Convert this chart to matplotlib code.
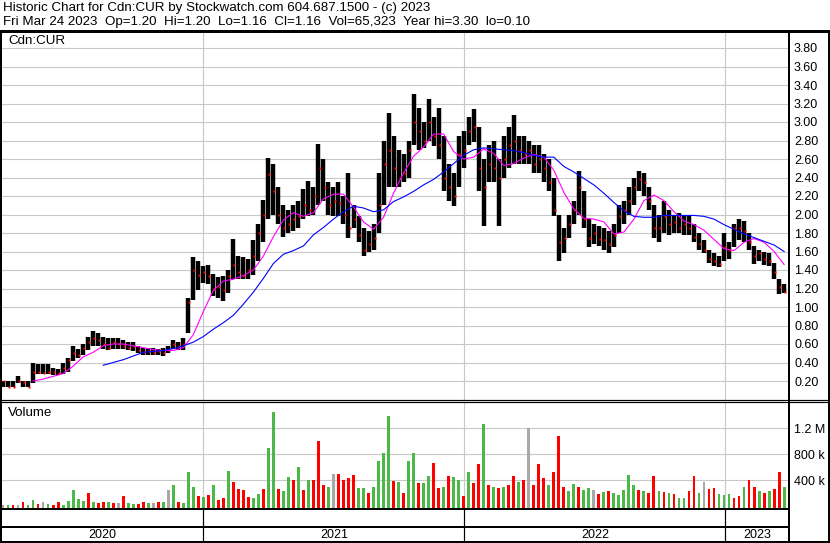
import numpy as np
import pandas as pd
import matplotlib
matplotlib.use("Agg")
import matplotlib.pyplot as plt
import matplotlib.dates as mdates
from matplotlib.lines import Line2D

plt.rcParams['font.family'] = ['Liberation Sans', 'DejaVu Sans']

# ---------------- data (weekly readings of the daily chart) ----------------
week_ends = pd.date_range('2020-03-27', '2023-03-24', freq='7D')

highs = [0.20, 0.20, 0.20, 0.25, 0.20, 0.20, 0.39, 0.38, 0.38, 0.38,
         0.34, 0.33, 0.40, 0.45, 0.58, 0.55, 0.60, 0.68, 0.74, 0.72,
         0.68, 0.66, 0.66, 0.66, 0.64, 0.62, 0.62, 0.58, 0.56, 0.56,
         0.56, 0.55, 0.56, 0.58, 0.64, 0.62, 0.66, 1.10, 1.54, 1.50,
         1.44, 1.45, 1.36, 1.32, 1.34, 1.40, 1.74, 1.55, 1.54, 1.52,
         1.72, 1.90, 2.16, 2.61, 2.55, 2.30, 2.10, 2.05, 2.10, 2.15,
         2.28, 2.36, 2.30, 2.76, 2.60, 2.35, 2.30, 2.35, 2.20, 2.45,
         2.10, 1.98, 1.85, 1.82, 1.90, 2.45, 2.80, 3.10, 2.85, 2.70,
         2.65, 2.80, 3.30, 3.15, 3.00, 3.25, 3.05, 3.15, 2.85, 2.55,
         2.45, 2.85, 2.90, 3.05, 3.14, 2.95, 2.60, 2.75, 2.80, 2.60,
         2.85, 2.95, 3.08, 2.85, 2.85, 2.80, 2.75, 2.75, 2.65, 2.60,
         2.40, 2.00, 1.85, 2.00, 2.15, 2.47, 2.25, 1.95, 1.90, 1.88,
         1.85, 1.82, 1.90, 2.10, 2.15, 2.30, 2.40, 2.47, 2.45, 2.30,
         2.10, 2.00, 2.15, 2.05, 2.00, 2.02, 2.00, 1.98, 1.90, 1.80,
         1.72, 1.62, 1.58, 1.55, 1.80, 1.70, 1.90, 1.95, 1.93, 1.80,
         1.66, 1.62, 1.60, 1.58, 1.48, 1.30, 1.25]

lows = [0.13, 0.14, 0.14, 0.18, 0.14, 0.14, 0.18, 0.28, 0.28, 0.28,
        0.27, 0.27, 0.28, 0.30, 0.42, 0.45, 0.48, 0.54, 0.58, 0.58,
        0.55, 0.53, 0.55, 0.55, 0.55, 0.53, 0.52, 0.50, 0.48, 0.48,
        0.48, 0.48, 0.47, 0.50, 0.55, 0.54, 0.54, 0.72, 1.08, 1.18,
        1.26, 1.25, 1.12, 1.10, 1.06, 1.15, 1.30, 1.30, 1.30, 1.30,
        1.35, 1.50, 1.70, 1.95, 2.00, 1.90, 1.76, 1.80, 1.82, 1.85,
        1.95, 1.98, 2.00, 2.10, 2.15, 2.00, 1.98, 1.98, 1.90, 1.75,
        1.85, 1.70, 1.55, 1.60, 1.62, 1.80, 2.10, 2.30, 2.30, 2.30,
        2.35, 2.40, 2.75, 2.70, 2.72, 2.80, 2.74, 2.60, 2.25, 2.15,
        2.09, 2.30, 2.50, 2.75, 2.78, 2.25, 1.88, 2.35, 2.35, 1.88,
        2.40, 2.50, 2.55, 2.55, 2.55, 2.55, 2.45, 2.45, 2.35, 2.25,
        1.98, 1.50, 1.58, 1.75, 1.90, 2.00, 1.85, 1.65, 1.68, 1.66,
        1.62, 1.58, 1.65, 1.80, 1.90, 2.00, 2.10, 2.25, 2.20, 2.05,
        1.75, 1.70, 1.80, 1.78, 1.80, 1.80, 1.78, 1.78, 1.70, 1.62,
        1.58, 1.48, 1.44, 1.43, 1.50, 1.52, 1.65, 1.72, 1.70, 1.62,
        1.47, 1.50, 1.45, 1.44, 1.30, 1.14, 1.15]

closes = [0.20, 0.14, 0.14, 0.20, 0.19, 0.14, 0.30, 0.30, 0.29, 0.30,
          0.30, 0.29, 0.34, 0.43, 0.50, 0.48, 0.56, 0.62, 0.66, 0.64,
          0.60, 0.56, 0.62, 0.60, 0.58, 0.56, 0.58, 0.54, 0.51, 0.52,
          0.50, 0.52, 0.50, 0.54, 0.60, 0.58, 0.60, 1.05, 1.40, 1.35,
          1.38, 1.34, 1.20, 1.22, 1.18, 1.33, 1.45, 1.38, 1.34, 1.40,
          1.55, 1.80, 2.00, 2.44, 2.25, 2.00, 1.85, 1.90, 1.95, 1.98,
          2.10, 2.05, 2.20, 2.50, 2.30, 2.10, 2.15, 2.12, 2.00, 1.85,
          1.95, 1.78, 1.62, 1.68, 1.75, 2.10, 2.55, 2.70, 2.50, 2.40,
          2.45, 2.70, 3.00, 2.90, 2.80, 3.00, 2.85, 2.75, 2.40, 2.30,
          2.20, 2.65, 2.70, 2.90, 2.95, 2.50, 2.30, 2.55, 2.50, 2.40,
          2.60, 2.75, 2.80, 2.70, 2.65, 2.70, 2.55, 2.60, 2.50, 2.35,
          2.05, 1.70, 1.75, 1.90, 2.05, 2.30, 1.95, 1.75, 1.80, 1.74,
          1.72, 1.68, 1.78, 1.98, 2.05, 2.15, 2.30, 2.38, 2.35, 2.15,
          1.85, 1.85, 1.98, 1.90, 1.92, 1.85, 1.90, 1.85, 1.76, 1.68,
          1.62, 1.52, 1.50, 1.47, 1.65, 1.62, 1.85, 1.85, 1.82, 1.70,
          1.55, 1.58, 1.52, 1.50, 1.38, 1.22, 1.16]

volume_k = [10, 12, 10, 15, 57, 20, 94, 30, 68, 25,
            20, 57, 20, 80, 250, 110, 80, 208, 70, 40,
            65, 65, 40, 50, 160, 40, 30, 30, 55, 40,
            45, 60, 55, 250, 330, 60, 40, 525, 300, 150,
            140, 170, 330, 100, 130, 535, 370, 270, 250, 140,
            120, 180, 260, 900, 1460, 260, 240, 450, 400, 600,
            250, 400, 400, 1010, 330, 300, 500, 500, 400, 430,
            480, 280, 280, 200, 300, 690, 820, 1390, 380, 370,
            200, 700, 820, 350, 360, 470, 665, 280, 300, 470,
            450, 400, 150, 520, 350, 650, 1270, 330, 300, 280,
            300, 330, 470, 370, 400, 1210, 320, 650, 430, 330,
            520, 1090, 300, 230, 340, 300, 250, 280, 250, 180,
            220, 230, 200, 170, 250, 480, 330, 250, 230, 200,
            460, 230, 220, 200, 180, 130, 130, 230, 470, 200,
            370, 270, 280, 180, 170, 180, 130, 150, 300, 410,
            300, 230, 200, 230, 260, 530, 300]

# g = up day, r = down day, n = unchanged
volume_dir = ("ngrnrggrng" "rrgggggrgr" "rgrnrggrrg" "nrgngrgggr"
              "grgrrgrrrr" "ggrggrggrg" "rgrrrgnrrr" "rggrggggrg"
              "rggrggrrgr" "ggrgrrgrgr" "grrgrnrrrg" "rrrggrggnr"
              "grgggggrgr" "rgrgrggrrg" "nrrgggrrgr" "rgrgrrg")

# moving averages read every second week (fast from week 6, slow from week 20)
fast_ma = [0.20, 0.22, 0.25, 0.28, 0.36, 0.46, 0.51, 0.58, 0.60, 0.60,
           0.58, 0.56, 0.54, 0.53, 0.53, 0.56, 0.70, 0.95, 1.18, 1.28,
           1.30, 1.34, 1.40, 1.55, 1.76, 1.94, 2.02, 1.98, 2.02, 2.17,
           2.22, 2.22, 2.08, 1.92, 1.84, 1.97, 2.23, 2.45, 2.63, 2.73,
           2.87, 2.87, 2.68, 2.60, 2.62, 2.71, 2.66, 2.53, 2.55, 2.61,
           2.65, 2.62, 2.48, 2.24, 2.06, 1.96, 1.95, 1.92, 1.79, 1.81,
           1.95, 2.15, 2.21, 2.15, 2.03, 1.93, 1.89, 1.83, 1.73, 1.63,
           1.61, 1.70, 1.74, 1.70, 1.60, 1.46]

slow_ma = [0.37, 0.40, 0.43, 0.47, 0.51, 0.52, 0.53, 0.55, 0.58, 0.62,
           0.68, 0.76, 0.83, 0.91, 1.03, 1.16, 1.31, 1.47, 1.57, 1.61,
           1.66, 1.78, 1.86, 1.95, 2.03, 2.09, 2.07, 2.03, 2.05, 2.14,
           2.19, 2.25, 2.32, 2.38, 2.46, 2.55, 2.64, 2.70, 2.72, 2.71,
           2.70, 2.69, 2.67, 2.64, 2.62, 2.62, 2.52, 2.46, 2.39, 2.32,
           2.23, 2.13, 2.04, 1.98, 1.97, 1.97, 1.99, 1.99, 1.99, 1.99,
           1.98, 1.95, 1.89, 1.84, 1.79, 1.75, 1.71, 1.67, 1.60]

price_ticks = [0.20, 0.40, 0.60, 0.80, 1.00, 1.20, 1.40, 1.60, 1.80, 2.00,
               2.20, 2.40, 2.60, 2.80, 3.00, 3.20, 3.40, 3.60, 3.80]
volume_ticks = [400, 800, 1200]
volume_tick_labels = ["400 k", "800 k", "1.2 M"]
year_labels = ["2020", "2021", "2022", "2023"]
year_starts = ["2021-01-01", "2022-01-01", "2023-01-01"]

header1 = "Historic Chart for Cdn:CUR by Stockwatch.com 604.687.1500 - (c) 2023"
header2 = ("Fri Mar 24 2023  Op=1.20  Hi=1.20  Lo=1.16  Cl=1.16  Vol=65,323  "
           "Year hi=3.30  lo=0.10")

# ---------------- layout helpers ----------------
W, H = 830, 543
fig = plt.figure(figsize=(W / 100, H / 100), dpi=100)
fig.patch.set_facecolor('white')


def fx(px):
    return px / W


def fy(py):
    return 1 - py / H


def axes_px(x0, y0, x1, y1):
    return fig.add_axes([fx(x0), fy(y1), (x1 - x0) / W, (y1 - y0) / H])


def hline(y, x0, x1, lw=1.0, color='black'):
    fig.add_artist(Line2D([fx(x0), fx(x1)], [fy(y), fy(y)], transform=fig.transFigure,
                          color=color, lw=lw * 0.72, solid_capstyle='butt'))


def vline(x, y0, y1, lw=1.0, color='black'):
    fig.add_artist(Line2D([fx(x), fx(x)], [fy(y0), fy(y1)], transform=fig.transFigure,
                          color=color, lw=lw * 0.72, solid_capstyle='butt'))


xd = mdates.date2num(week_ends.to_pydatetime())
days_per_px = 1.398
x_left = xd[0] - 2 * days_per_px
x_right = xd[0] + 786 * days_per_px
grid_c = '#C8C8C8'
year_x = mdates.date2num(pd.to_datetime(year_starts).to_pydatetime())

# ---------------- price panel ----------------
ax = axes_px(1, 31.5, 789, 399.5)
ax.set_xlim(x_left, x_right)
ax.set_ylim(0.0, (399.5 - 31.5) / 92.5)
for s in ax.spines.values():
    s.set_visible(False)
ax.set_yticks(price_ticks)
ax.set_yticklabels([f"{t:.2f}" for t in price_ticks])
ax.yaxis.tick_right()
ax.tick_params(axis='y', length=0, pad=3.6, labelsize=9)
ax.set_xticks([])
for t in price_ticks:
    ax.axhline(t, color=grid_c, lw=0.8, zorder=0)
for yx in year_x:
    ax.axvline(yx, color=grid_c, lw=0.8, zorder=0)

ax.vlines(xd, lows, highs, color='black', lw=3.2, zorder=2)
ax.plot(xd + 1.5, closes, 's', ms=1.6, color='red', mec='none', zorder=3)
ax.plot(xd[6::2], fast_ma, color='#FF00FF', lw=0.8, zorder=4)
ax.plot(xd[20::2], slow_ma, color='#0000FF', lw=0.8, zorder=4)
fig.text(fx(8), fy(41.5), "Cdn:CUR", fontsize=9.6, va='center', ha='left')

# ---------------- volume panel ----------------
axv = axes_px(1, 402.5, 789, 508)
axv.set_xlim(x_left, x_right)
axv.set_ylim(-30, 1600)
for s in axv.spines.values():
    s.set_visible(False)
axv.set_yticks(volume_ticks)
axv.set_yticklabels(volume_tick_labels)
axv.yaxis.tick_right()
axv.tick_params(axis='y', length=0, pad=3.6, labelsize=9)
axv.set_xticks([])
for t in volume_ticks:
    axv.axhline(t, color=grid_c, lw=0.8, zorder=0)
for yx in year_x:
    axv.axvline(yx, color=grid_c, lw=0.8, zorder=0)
col_map = {'g': '#4CB848', 'r': '#FF0000', 'n': '#A8A8A8'}
axv.bar(xd, np.array(volume_k) + 30, width=4.0, bottom=-30,
        color=[col_map[c] for c in volume_dir], linewidth=0, zorder=2)
fig.text(fx(8), fy(413), "Volume", fontsize=9.6, va='center', ha='left')

# ---------------- frame & date band ----------------
hline(30.5, 0, 830, lw=3)
vline(1, 30, 542, lw=2)
vline(828.5, 30, 542, lw=2)
vline(789, 30, 542, lw=2)
hline(400, 0, 830, lw=1.2)
hline(402, 0, 830, lw=1.2)
hline(509, 0, 789, lw=2)
hline(527, 0, 789, lw=2)
hline(541.5, 0, 830, lw=2)


def px_of(d):
    return 1 + (d - x_left) / days_per_px


bounds = [1] + [px_of(v) for v in year_x] + [789]
for v in year_x:
    vline(px_of(v), 509, 541.5, lw=1.2)
for i, lab in enumerate(year_labels):
    fig.text(fx((bounds[i] + bounds[i + 1]) / 2), fy(534.5), lab, fontsize=9,
             ha='center', va='center')

fig.text(fx(3), fy(8.5), header1, fontsize=9.6, ha='left', va='center')
fig.text(fx(3), fy(22.5), header2, fontsize=9.6, ha='left', va='center')

fig.savefig('out.png', dpi=100, facecolor='white')
